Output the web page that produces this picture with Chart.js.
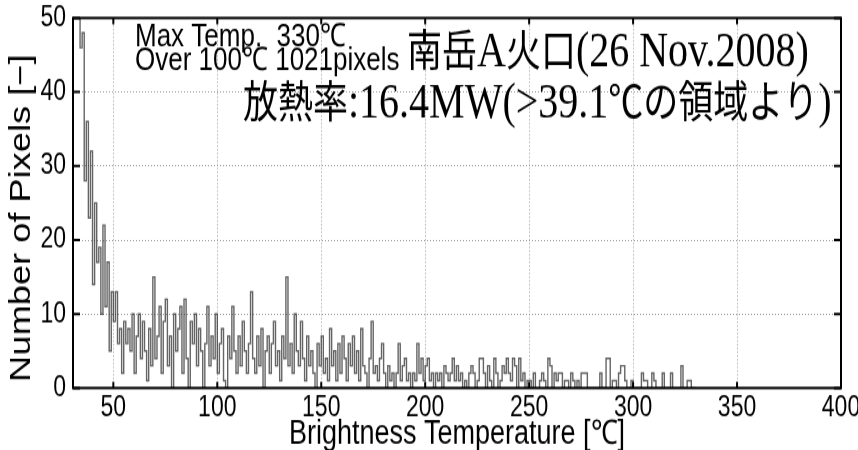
<!DOCTYPE html>
<html>
<head>
<meta charset="utf-8">
<script src="https://cdn.jsdelivr.net/npm/chart.js@4/dist/chart.umd.min.js"></script>
<style>
html,body{margin:0;padding:0;background:#fff;width:858px;height:450px}
#c{display:block;transform:scale(1,1.25);transform-origin:0 0}
</style>
</head>
<body>
<canvas id="c" width="858" height="360"></canvas>
<script>
// Bin start temperatures (°C), 1 °C bins
const temps = [
  33,34,35,36,37,38,39,40,41,42,
  43,44,45,46,47,48,49,50,51,52,
  53,54,55,56,57,58,59,60,61,62,
  63,64,65,66,67,68,69,70,71,72,
  73,74,75,76,77,78,79,80,81,82,
  83,84,85,86,87,88,89,90,91,92,
  93,94,95,96,97,98,99,100,101,102,
  103,104,105,106,107,108,109,110,111,112,
  113,114,115,116,117,118,119,120,121,122,
  123,124,125,126,127,128,129,130,131,132,
  133,134,135,136,137,138,139,140,141,142,
  143,144,145,146,147,148,149,150,151,152,
  153,154,155,156,157,158,159,160,161,162,
  163,164,165,166,167,168,169,170,171,172,
  173,174,175,176,177,178,179,180,181,182,
  183,184,185,186,187,188,189,190,191,192,
  193,194,195,196,197,198,199,200,201,202,
  203,204,205,206,207,208,209,210,211,212,
  213,214,215,216,217,218,219,220,221,222,
  223,224,225,226,227,228,229,230,231,232,
  233,234,235,236,237,238,239,240,241,242,
  243,244,245,246,247,248,249,250,251,252,
  253,254,255,256,257,258,259,260,261,262,
  263,264,265,266,267,268,269,270,271,272,
  273,274,275,276,277,278,279,280,281,282,
  283,284,285,286,287,288,289,290,291,292,
  293,294,295,296,297,298,299,300,301,302,
  303,304,305,306,307,308,309,310,311,312,
  313,314,315,316,317,318,319,320,321,322,
  323,324,325,326,327,328,329,330
];
// Number of pixels in each bin
const counts = [
  50,46,48,28,36,23,32,14,25,17,
  19,10,22,11,17,5,13,9,13,6,
  8,2,9,6,8,5,10,2,7,10,
  4,9,5,1,8,3,15,4,7,11,
  2,9,12,3,7,0,10,5,8,11,
  2,12,4,0,9,6,10,3,8,5,
  0,6,11,3,7,4,10,2,6,8,
  1,0,7,4,11,5,2,7,3,9,
  5,2,6,13,4,2,7,3,8,0,
  5,7,2,6,9,3,5,1,7,4,
  15,3,6,2,10,5,3,9,4,1,
  7,3,5,2,0,6,3,7,2,4,
  1,8,3,5,1,6,2,7,4,1,
  6,3,7,2,5,1,8,3,2,0,
  4,9,2,3,1,4,6,2,0,3,
  1,2,0,2,6,1,3,4,1,2,
  0,2,1,6,2,4,1,3,4,1,
  2,0,2,1,2,0,3,2,1,2,
  4,1,3,1,2,0,1,0,2,3,
  2,0,1,4,4,2,0,3,1,0,
  4,2,0,1,3,2,4,2,1,4,
  3,0,4,1,2,0,1,1,0,2,
  0,0,1,2,1,0,4,3,0,2,
  1,2,2,0,1,1,0,2,1,0,
  1,0,2,2,2,0,0,0,0,0,
  0,2,0,0,4,4,0,1,1,0,
  2,3,3,1,0,0,1,0,0,0,
  0,2,1,1,0,0,2,1,0,0,
  0,2,0,0,0,2,0,0,0,0,
  3,0,0,1,1,0,0,0
];
const xTicks = [50,100,150,200,250,300,350,400];
const yTicks = [0,10,20,30,40,50];
const xTitle = 'Brightness Temperature [℃]';
const yTitle = 'Number of Pixels [−]\u00A0\u00A0\u00A0';
const infoLines = ['Max Temp.  330℃', 'Over 100℃ 1021pixels'];
const craterRuns = [['南岳','cjk'],['A','serif'],['火口','cjk'],['(26 Nov.2008)','serif']];
const heatRuns = [['放熱率','cjk'],[':16.4MW(>39.1','serif'],['℃の領域より','cjk'],[')','serif']];

const SANS = '"Liberation Sans", Arial, sans-serif';
const fonts = {
  cjk: s => `${s}px "Noto Sans CJK JP", sans-serif`,
  serif: s => `${s}px "Liberation Serif", "Times New Roman", serif`
};

function drawRuns(ctx, runs, x, y, sizes) {
  let cx = x;
  for (const [txt, kind] of runs) {
    ctx.font = fonts[kind](sizes[kind]);
    ctx.fillText(txt, cx, y);
    cx += ctx.measureText(txt).width;
  }
}

const frame = {
  id: 'frame',
  afterDraw(chart) {
    const ctx = chart.ctx, a = chart.chartArea;
    const xs = chart.scales.x, ys = chart.scales.y;
    ctx.save();
    ctx.strokeStyle = '#000';
    ctx.lineWidth = 2;
    ctx.strokeRect(a.left, a.top, a.right - a.left, a.bottom - a.top);
    ctx.beginPath();
    xs.ticks.forEach(t => {
      const px = xs.getPixelForValue(t.value);
      ctx.moveTo(px, a.bottom); ctx.lineTo(px, a.bottom - 5);
      ctx.moveTo(px, a.top); ctx.lineTo(px, a.top + 5);
    });
    ys.ticks.forEach(t => {
      const py = ys.getPixelForValue(t.value);
      ctx.moveTo(a.left, py); ctx.lineTo(a.left + 7, py);
      ctx.moveTo(a.right, py); ctx.lineTo(a.right - 7, py);
    });
    ctx.stroke();
    ctx.fillStyle = '#000';
    ctx.textBaseline = 'alphabetic';
    ctx.textAlign = 'left';
    ctx.font = '26px ' + SANS;
    ctx.fillText(infoLines[0], 135, 36.5);
    ctx.fillText(infoLines[1], 135, 56);
    drawRuns(ctx, craterRuns, 407, 53, {cjk: 35, serif: 40});
    drawRuns(ctx, heatRuns, 243, 94, {cjk: 35, serif: 40});
    ctx.restore();
  }
};

new Chart(document.getElementById('c'), {
  type: 'line',
  data: {
    datasets: [{
      data: temps.map((t, i) => ({x: t, y: counts[i]})),
      stepped: 'before',
      borderColor: 'rgba(40,40,40,0.72)',
      borderWidth: 1.4,
      pointRadius: 0,
      fill: false
    }]
  },
  options: {
    responsive: false,
    animation: false,
    devicePixelRatio: 1,
    layout: {padding: {left: 0, right: 17, top: 14.4, bottom: 0}},
    plugins: {legend: {display: false}, tooltip: {enabled: false}},
    scales: {
      x: {
        type: 'linear', min: 30.6, max: 400,
        afterBuildTicks: s => { s.ticks = xTicks.map(v => ({value: v})); },
        afterFit: s => { s.height = 49.6; s.paddingLeft = 0; s.paddingRight = 0; },
        grid: {color: '#9a9a9a', lineWidth: 1, drawTicks: false},
        border: {display: false, dash: [1, 2]},
        ticks: {padding: 2, color: '#000', maxRotation: 0, autoSkip: false, font: {family: SANS, size: 23}},
        title: {display: true, text: xTitle, color: '#000', padding: {top: 0, bottom: 0},
                font: {family: SANS, size: 27, lineHeight: 0.95}}
      },
      y: {
        min: 0, max: 50,
        afterBuildTicks: s => { s.ticks = yTicks.map(v => ({value: v})); },
        afterFit: s => { s.width = 73; s.paddingTop = 0; s.paddingBottom = 0; },
        grid: {color: '#9a9a9a', lineWidth: 1, drawTicks: false},
        border: {display: false, dash: [1, 2]},
        ticks: {padding: 7, color: '#000', font: {family: SANS, size: 23}},
        title: {display: true, text: yTitle, color: '#000', padding: {top: 5, bottom: 0},
                font: {family: SANS, size: 29, lineHeight: 1.2}}
      }
    }
  },
  plugins: [frame]
});
</script>
</body>
</html>
